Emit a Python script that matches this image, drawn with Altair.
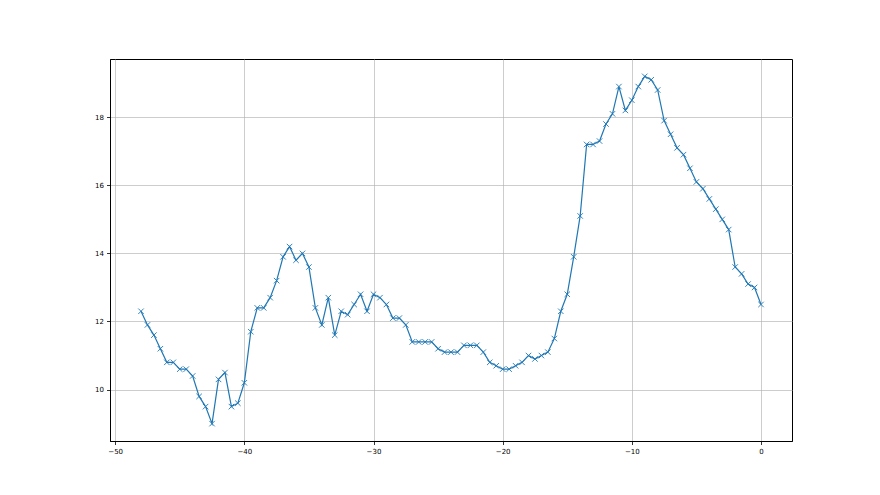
import altair as alt
import pandas as pd

x_values = [i * 0.5 - 48 for i in range(97)]
y_values = [
    12.3, 11.9, 11.6, 11.2, 10.8, 10.8, 10.6, 10.6, 10.4, 9.8,
    9.5, 9.0, 10.3, 10.5, 9.5, 9.6, 10.2, 11.7, 12.4, 12.4,
    12.7, 13.2, 13.9, 14.2, 13.8, 14.0, 13.6, 12.4, 11.9, 12.7,
    11.6, 12.3, 12.2, 12.5, 12.8, 12.3, 12.8, 12.7, 12.5, 12.1,
    12.1, 11.9, 11.4, 11.4, 11.4, 11.4, 11.2, 11.1, 11.1, 11.1,
    11.3, 11.3, 11.3, 11.1, 10.8, 10.7, 10.6, 10.6, 10.7, 10.8,
    11.0, 10.9, 11.0, 11.1, 11.5, 12.3, 12.8, 13.9, 15.1, 17.2,
    17.2, 17.3, 17.8, 18.1, 18.9, 18.2, 18.5, 18.9, 19.2, 19.1,
    18.8, 17.9, 17.5, 17.1, 16.9, 16.5, 16.1, 15.9, 15.6, 15.3,
    15.0, 14.7, 13.6, 13.4, 13.1, 13.0, 12.5,
]
x_ticks = [-50, -40, -30, -20, -10, 0]
y_ticks = [10, 12, 14, 16, 18]

df = pd.DataFrame({"x": x_values, "y": y_values})

xs = alt.Scale(domain=[-50.4, 2.4], nice=False, zero=False)
ys = alt.Scale(domain=[8.49, 19.71], nice=False, zero=False)

xenc = alt.X("x:Q", scale=xs, axis=alt.Axis(values=x_ticks, title=None, format="d"))
yenc = alt.Y("y:Q", scale=ys, axis=alt.Axis(values=y_ticks, title=None, format="d"))

line = alt.Chart(df).mark_line(color="#1f77b4", strokeWidth=1.2).encode(x=xenc, y=yenc)
pts = alt.Chart(df).mark_point(
    shape="M-1,-1L1,1M-1,1L1,-1", size=30, color="#1f77b4", filled=False, strokeWidth=0.9, opacity=1
).encode(x=xenc, y=yenc)

chart = (
    alt.layer(line, pts)
    .properties(
        width=682,
        height=382,
        autosize=alt.AutoSizeParams(type="none"),
        padding={"left": 102, "top": 51, "right": 80, "bottom": 46},
        background="white",
    )
    .configure_view(stroke="black", strokeWidth=1)
    .configure_axis(
        grid=True,
        gridColor="#b0b0b0",
        gridWidth=0.8,
        gridOpacity=0.8,
        domainColor="black",
        domainWidth=1,
        tickColor="black",
        tickSize=3.5,
        tickWidth=0.8,
        labelFont="DejaVu Sans",
        labelFontSize=7,
        labelColor="black",
        labelPadding=3,
    )
)

chart.save("out.html", embed_options={"renderer": "svg", "actions": False})
